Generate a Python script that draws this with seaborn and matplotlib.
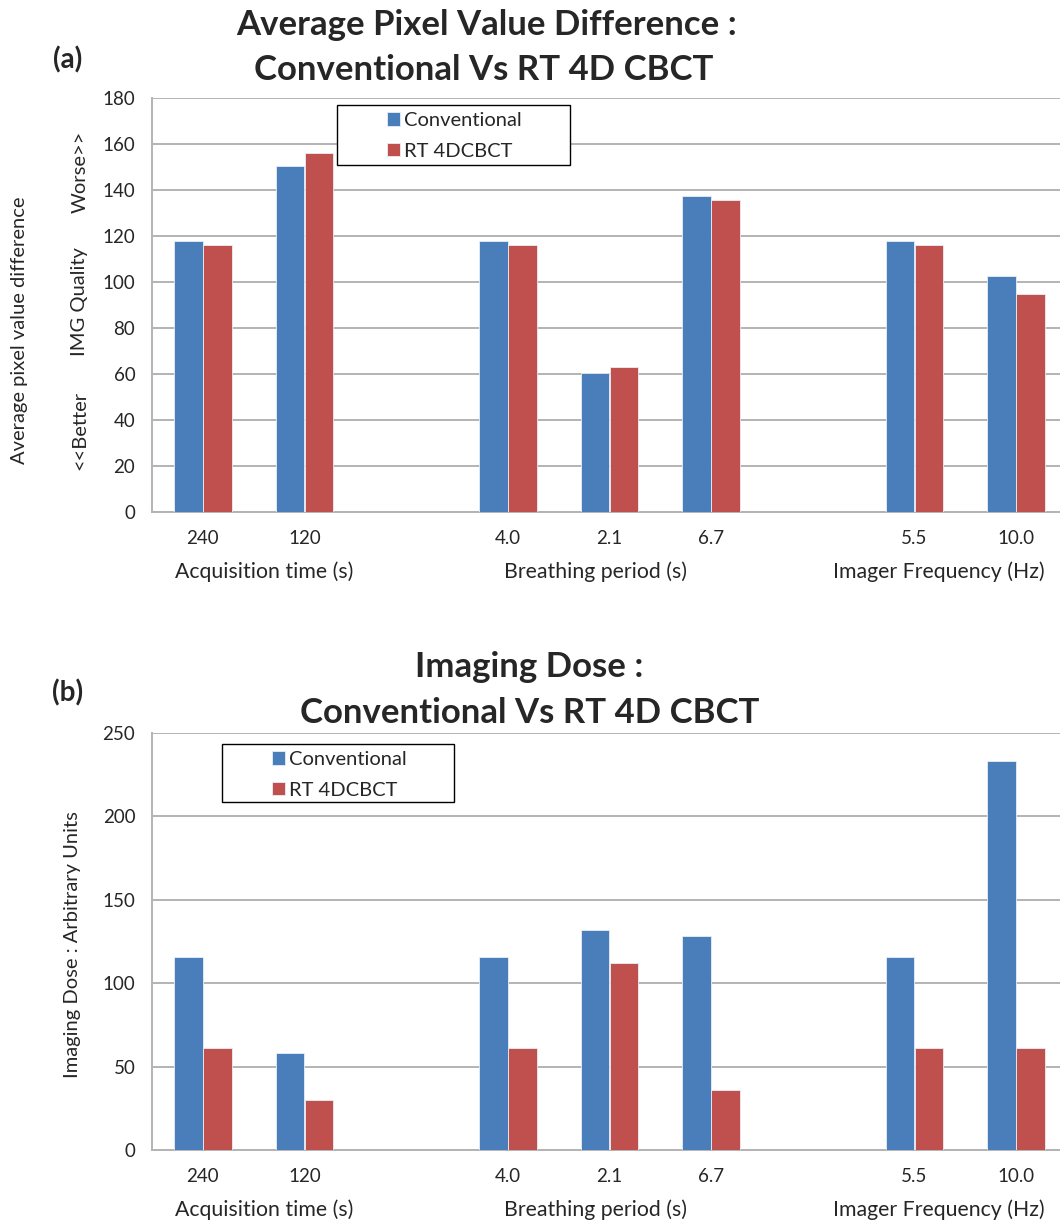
import numpy as np
import pandas as pd
import matplotlib
matplotlib.use("Agg")
import matplotlib.pyplot as plt
from matplotlib.patches import Rectangle
import seaborn as sns

# category slots (two blank slots separate the three groups)
categories = ["240", "120", "", "4.0", "2.1", "6.7", " ", "5.5", "10.0"]
series_names = ["Conventional", "RT 4DCBCT"]

# panel (a): average pixel value difference
pix_conv = [118, 150.5, np.nan, 118, 60.5, 137.5, np.nan, 118, 102.5]
pix_rt = [116, 156, np.nan, 116, 63, 135.5, np.nan, 116, 95]

# panel (b): imaging dose
dose_conv = [116, 58, np.nan, 116, 132, 128, np.nan, 116, 233]
dose_rt = [61, 30, np.nan, 61, 112, 36, np.nan, 61, 61]

group_labels = ["Acquisition time (s)", "Breathing period (s)", "Imager Frequency (Hz)"]
group_pos = [0.6, 3.86, 7.24]

BLUE = "#4A7EBB"
RED = "#C0504D"
GRID = "#B3B3B3"

sns.set_style("white")
plt.rcParams["font.family"] = ["Lato", "DejaVu Sans"]

W, H = 1060, 1224


def make_frame(conv, rt):
    rows = []
    for cat, c, r in zip(categories, conv, rt):
        if not np.isnan(c):
            rows.append({"slot": cat, "series": series_names[0], "value": c})
        if not np.isnan(r):
            rows.append({"slot": cat, "series": series_names[1], "value": r})
    return pd.DataFrame(rows)


def draw_panel(ax, df, ymax, ystep, box):
    sns.barplot(data=df, x="slot", y="value", hue="series", order=categories,
                hue_order=series_names, palette=[BLUE, RED], width=0.57,
                gap=0, saturation=1, errorbar=None, ax=ax, edgecolor="#E8EEF6",
                linewidth=0.6, zorder=3)
    ax.set_xlim(-0.5, len(categories) - 0.5)
    ax.set_ylim(0, ymax)
    ax.set_yticks(np.arange(0, ymax + 1, ystep))
    ax.yaxis.grid(True, color=GRID, linewidth=1.4, zorder=0)
    ax.set_axisbelow(True)
    for side in ["top", "right"]:
        ax.spines[side].set_visible(False)
    for side in ["left", "bottom"]:
        ax.spines[side].set_color(GRID)
        ax.spines[side].set_linewidth(1.4)
    ax.set_xticks(range(len(categories)))
    ax.set_xticklabels(categories, fontsize=13.5)
    ax.set_xticks(np.arange(-0.5, len(categories), 1.0), minor=True)
    ax.tick_params(axis="x", which="major", length=0, pad=13)
    ax.tick_params(axis="x", which="minor", length=6, color=GRID, width=1.4)
    ax.tick_params(axis="y", length=6, color=GRID, width=1.4, labelsize=13.5, pad=6)
    ax.set_xlabel("")
    ax.set_ylabel("")
    for lab, xp in zip(group_labels, group_pos):
        ax.annotate(lab, xy=(xp, 0), xycoords=("data", "axes fraction"),
                    xytext=(0, -60), textcoords="offset pixels",
                    ha="center", va="center", fontsize=15.3)

    # legend box drawn like the Excel one (wide frame, entries inset)
    x0, y0, x1, y1 = box
    ax.add_patch(Rectangle((x0 / W, 1 - y1 / H), (x1 - x0) / W, (y1 - y0) / H,
                           transform=fig.transFigure, facecolor="white",
                           edgecolor="black", linewidth=1.0, zorder=4,
                           clip_on=False))
    leg = ax.legend(loc="upper left",
                    bbox_to_anchor=((x0 + 44) / W, 1 - (y0 + 1) / H),
                    bbox_transform=fig.transFigure, frameon=False, fontsize=14.5,
                    handlelength=0.65, handleheight=0.65, handletextpad=0.2,
                    borderpad=0.3, labelspacing=0.68, borderaxespad=0)
    leg.set_zorder(6)


fig = plt.figure(figsize=(10.6, 12.24), dpi=100)

ax_a = fig.add_axes([152 / W, (H - 512) / H, (1067 - 152) / W, (512 - 98) / H])
ax_b = fig.add_axes([152 / W, (H - 1150) / H, (1067 - 152) / W, (1150 - 733) / H])

draw_panel(ax_a, make_frame(pix_conv, pix_rt), 180, 20, (337, 105, 570, 165))
draw_panel(ax_b, make_frame(dose_conv, dose_rt), 250, 50, (222, 744, 454, 802))

# titles
title_kw = dict(ha="center", va="center", fontsize=25, fontweight="bold")
fig.text(487 / W, 1 - 25 / H, "Average Pixel Value Difference :", **title_kw)
fig.text(484 / W, 1 - 70 / H, "Conventional Vs RT 4D CBCT", **title_kw)
fig.text(529 / W, 1 - 667 / H, "Imaging Dose :", **title_kw)
fig.text(530 / W, 1 - 713 / H, "Conventional Vs RT 4D CBCT", **title_kw)
fig.text(68 / W, 1 - 60 / H, "(a)", ha="center", va="center", fontsize=20,
         fontweight="bold")
fig.text(68 / W, 1 - 693 / H, "(b)", ha="center", va="center", fontsize=20,
         fontweight="bold")

# y axis labels
fig.text(20 / W, 1 - 330 / H, "Average pixel value difference", rotation=90,
         ha="center", va="center", fontsize=14.5)
fig.text(80 / W, 1 - 430 / H, "<<Better", rotation=90, ha="center",
         va="center", fontsize=14.5)
fig.text(80 / W, 1 - 302 / H, "IMG Quality", rotation=90, ha="center",
         va="center", fontsize=14.5)
fig.text(80 / W, 1 - 172 / H, "Worse>>", rotation=90, ha="center",
         va="center", fontsize=14.5)
fig.text(73 / W, 1 - 945 / H, "Imaging Dose : Arbitrary Units", rotation=90,
         ha="center", va="center", fontsize=14.5)

fig.savefig("out.png", dpi=100)
